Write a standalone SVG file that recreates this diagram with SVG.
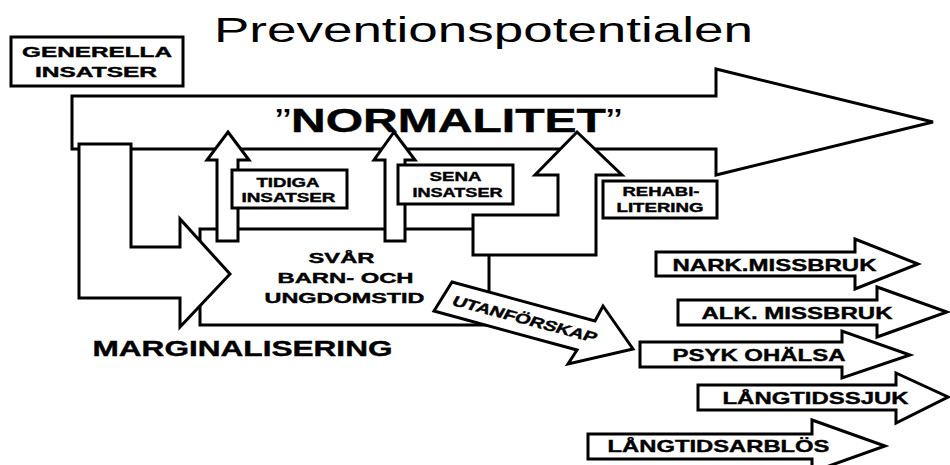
<svg xmlns="http://www.w3.org/2000/svg" width="950" height="465" viewBox="0 0 950 465">
  <style>
    .shape { fill: #fff; stroke: #000; stroke-width: 3; stroke-linejoin: miter; }
    .lbl { font-family: "Liberation Sans", Arial, sans-serif; font-weight: bold; fill: #000; stroke: #000; stroke-width: 0.4; text-anchor: middle; }
    .title { font-family: "Liberation Sans", Arial, sans-serif; font-weight: normal; fill: #000; }
  </style>
  <rect width="950" height="465" fill="#fff"/>

  <!-- title -->
  <text class="title" x="214" y="42" font-size="35" textLength="539" lengthAdjust="spacingAndGlyphs">Preventionspotentialen</text>

  <!-- main "normality" arrow -->
  <g id="normalitet">
    <path class="shape" d="M72,96 H716 V69 L933,122 L716,175 V149 H72 Z"/>
    <text class="lbl" x="448.5" y="132" font-size="33" textLength="347" lengthAdjust="spacingAndGlyphs"><tspan font-weight="normal" stroke-width="0">”</tspan>NORMALITET<tspan font-weight="normal" stroke-width="0">”</tspan></text>
  </g>

  <!-- difficult childhood box -->
  <g id="svar-barn-och-ungdomstid">
    <rect class="shape" x="200" y="229" width="289" height="96"/>
    <text class="lbl" x="341.5" y="263" font-size="15" textLength="66" lengthAdjust="spacingAndGlyphs">SVÅR</text>
    <text class="lbl" x="345.5" y="283" font-size="15" textLength="136" lengthAdjust="spacingAndGlyphs">BARN- OCH</text>
    <text class="lbl" x="344.5" y="303" font-size="15" textLength="160" lengthAdjust="spacingAndGlyphs">UNGDOMSTID</text>
  </g>

  <!-- marginalisation L-arrow -->
  <g id="marginalisering">
    <path class="shape" d="M79,144 H131 V247 H180 V219 L230,274 L180,327 V298 H79 Z"/>
    <text class="lbl" x="242.5" y="356" font-size="22" textLength="300" lengthAdjust="spacingAndGlyphs">MARGINALISERING</text>
  </g>

  <!-- arrows between the stages -->
  <g id="connectors">
    <path id="arrow-tidiga" class="shape" d="M228,132 L249,160 H238 V241 H217 V160 H207 Z"/>
    <path id="arrow-sena" class="shape" d="M394,132 L415,160 H405 V241 H385 V160 H374 Z"/>
    <path id="arrow-rehab" class="shape" d="M577,132 L622,175 H596 V255 H473 V215 H558 V175 H535 Z"/>
    <g id="arrow-utanforskap">
      <path class="shape" d="M452,282 L595,321 L603,306 L633,349 L568,364 L577,350 L434,311 Z"/>
      <text class="lbl" transform="matrix(1.353 0.358 -0.519 0.933 525 319)" x="0" y="5" font-size="14" textLength="106" lengthAdjust="spacingAndGlyphs">UTANFÖRSKAP</text>
    </g>
  </g>

  <!-- intervention labels -->
  <g id="generella-insatser">
    <rect class="shape" x="11" y="37" width="172" height="49"/>
    <text class="lbl" x="97" y="57" font-size="15" textLength="150" lengthAdjust="spacingAndGlyphs">GENERELLA</text>
    <text class="lbl" x="96" y="77" font-size="15" textLength="122" lengthAdjust="spacingAndGlyphs">INSATSER</text>
  </g>
  <g id="tidiga-insatser">
    <rect class="shape" x="232" y="170" width="115" height="38"/>
    <text class="lbl" x="288" y="187" font-size="13" textLength="63" lengthAdjust="spacingAndGlyphs">TIDIGA</text>
    <text class="lbl" x="288.5" y="202" font-size="13" textLength="94" lengthAdjust="spacingAndGlyphs">INSATSER</text>
  </g>
  <g id="sena-insatser">
    <rect class="shape" x="398" y="165" width="115" height="39"/>
    <text class="lbl" x="455.5" y="181" font-size="13" textLength="52" lengthAdjust="spacingAndGlyphs">SENA</text>
    <text class="lbl" x="457.5" y="197" font-size="13" textLength="90" lengthAdjust="spacingAndGlyphs">INSATSER</text>
  </g>
  <g id="rehabilitering">
    <rect class="shape" x="603" y="181" width="114" height="37"/>
    <text class="lbl" x="661" y="196" font-size="13" textLength="77" lengthAdjust="spacingAndGlyphs">REHABI-</text>
    <text class="lbl" x="660" y="212" font-size="13" textLength="87" lengthAdjust="spacingAndGlyphs">LITERING</text>
  </g>

  <!-- outcome arrows -->
  <g id="nark-missbruk">
    <path class="shape" d="M656,252 H855 V239 L918,264 L855,289 V276 H656 Z"/>
    <text class="lbl" x="774.5" y="271" font-size="17" textLength="204" lengthAdjust="spacingAndGlyphs">NARK.MISSBRUK</text>
  </g>
  <g id="alk-missbruk">
    <path class="shape" d="M678,300 H877 V287 L947,312 L877,337 V325 H678 Z"/>
    <text class="lbl" x="797" y="319" font-size="17" textLength="191" lengthAdjust="spacingAndGlyphs">ALK. MISSBRUK</text>
  </g>
  <g id="psyk-ohalsa">
    <path class="shape" d="M640,342 H842 V331 L910,355 L842,378 V367 H640 Z"/>
    <text class="lbl" x="759" y="361" font-size="17" textLength="173" lengthAdjust="spacingAndGlyphs">PSYK OHÄLSA</text>
  </g>
  <g id="langtidssjuk">
    <path class="shape" d="M698,385 H896 V373 L948,397 L896,423 V410 H698 Z"/>
    <text class="lbl" x="815.5" y="404" font-size="17" textLength="186" lengthAdjust="spacingAndGlyphs">LÅNGTIDSSJUK</text>
  </g>
  <g id="langtidsarblos">
    <path class="shape" d="M588,434 H812 V420 L885,446 L812,472 V459 H588 Z"/>
    <text class="lbl" x="718.5" y="452" font-size="17" textLength="222" lengthAdjust="spacingAndGlyphs">LÅNGTIDSARBLÖS</text>
  </g>
</svg>
